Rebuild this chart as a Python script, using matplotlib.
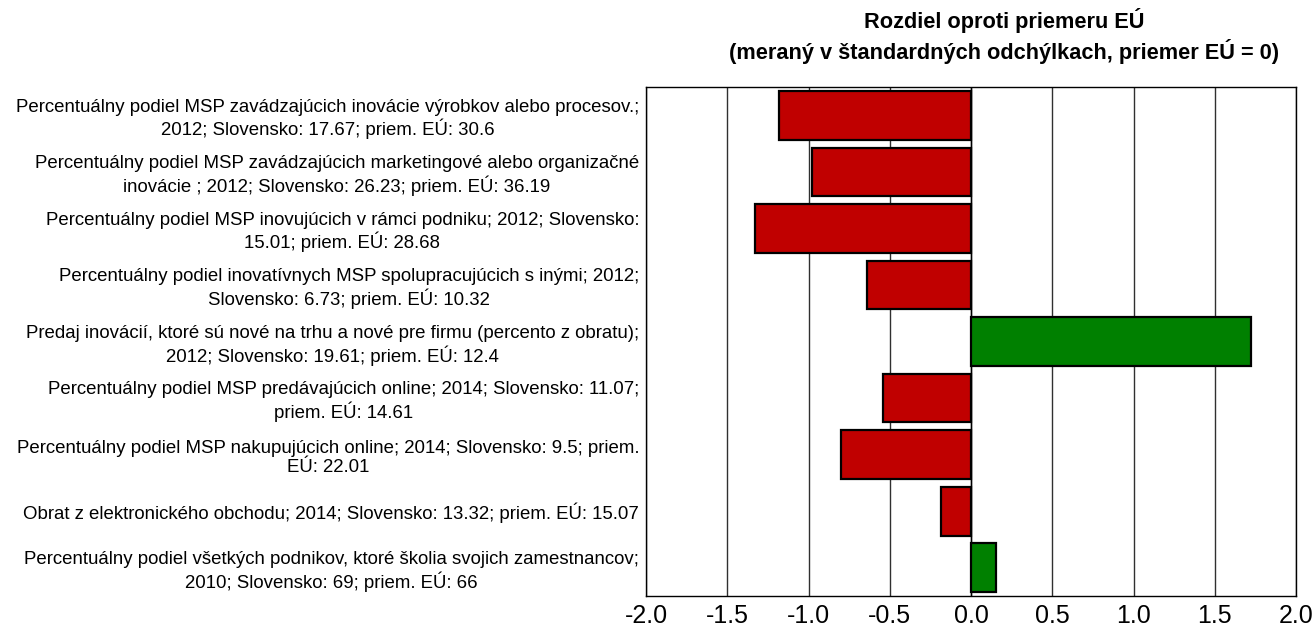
import numpy as np
import matplotlib.pyplot as plt

plt.rcParams['font.family'] = ['Liberation Sans', 'DejaVu Sans']

# Data
labels = [
    'Percentuálny podiel MSP zavádzajúcich inovácie výrobkov alebo procesov.;\n2012; Slovensko: 17.67; priem. EÚ: 30.6',
    'Percentuálny podiel MSP zavádzajúcich marketingové alebo organizačné\ninovácie ; 2012; Slovensko: 26.23; priem. EÚ: 36.19',
    'Percentuálny podiel MSP inovujúcich v rámci podniku; 2012; Slovensko:\n15.01; priem. EÚ: 28.68',
    'Percentuálny podiel inovatívnych MSP spolupracujúcich s inými; 2012;\nSlovensko: 6.73; priem. EÚ: 10.32',
    'Predaj inovácií, ktoré sú nové na trhu a nové pre firmu (percento z obratu);\n2012; Slovensko: 19.61; priem. EÚ: 12.4',
    'Percentuálny podiel MSP predávajúcich online; 2014; Slovensko: 11.07;\npriem. EÚ: 14.61',
    'Percentuálny podiel MSP nakupujúcich online; 2014; Slovensko: 9.5; priem.\nEÚ: 22.01',
    'Obrat z elektronického obchodu; 2014; Slovensko: 13.32; priem. EÚ: 15.07',
    'Percentuálny podiel všetkých podnikov, ktoré školia svojich zamestnancov;\n2010; Slovensko: 69; priem. EÚ: 66',
]
values = [-1.18, -0.98, -1.33, -0.64, 1.725, -0.54, -0.80, -0.185, 0.155]
xticks = [-2.0, -1.5, -1.0, -0.5, 0.0, 0.5, 1.0, 1.5, 2.0]

colors = ['#C00000' if v < 0 else '#008000' for v in values]

fig = plt.figure(figsize=(13.16, 6.34), dpi=100)
ax = fig.add_axes([0.4909, 0.0599, 0.4939, 0.8029])

y = np.arange(len(values))
ax.barh(y, values, height=0.86, color=colors, edgecolor='black', linewidth=1.6, zorder=3)

ax.set_xlim(-2, 2)
ax.set_ylim(len(values) - 0.5, -0.5)
ax.set_xticks(xticks)
ax.set_xticklabels([f'{t:.1f}' for t in xticks], fontsize=18)
ax.set_yticks(y)
ax.set_yticklabels(labels, fontsize=13.4, multialignment='center', linespacing=1.2)
ax.tick_params(axis='both', length=0)
ax.tick_params(axis='y', pad=5)
ax.tick_params(axis='x', pad=6)

ax.grid(axis='x', color='#303030', linewidth=1.0, zorder=0)
ax.axvline(0, color='black', linewidth=1.0, zorder=2)
for s in ax.spines.values():
    s.set_color('black')
    s.set_linewidth(1.0)

fig.text(0.763, 0.943, 'Rozdiel oproti priemeru EÚ\n(meraný v štandardných odchýlkach, priemer EÚ = 0)',
         ha='center', va='center', fontsize=15.7, fontweight='bold', linespacing=1.3)

plt.savefig('out.png', dpi=100)
